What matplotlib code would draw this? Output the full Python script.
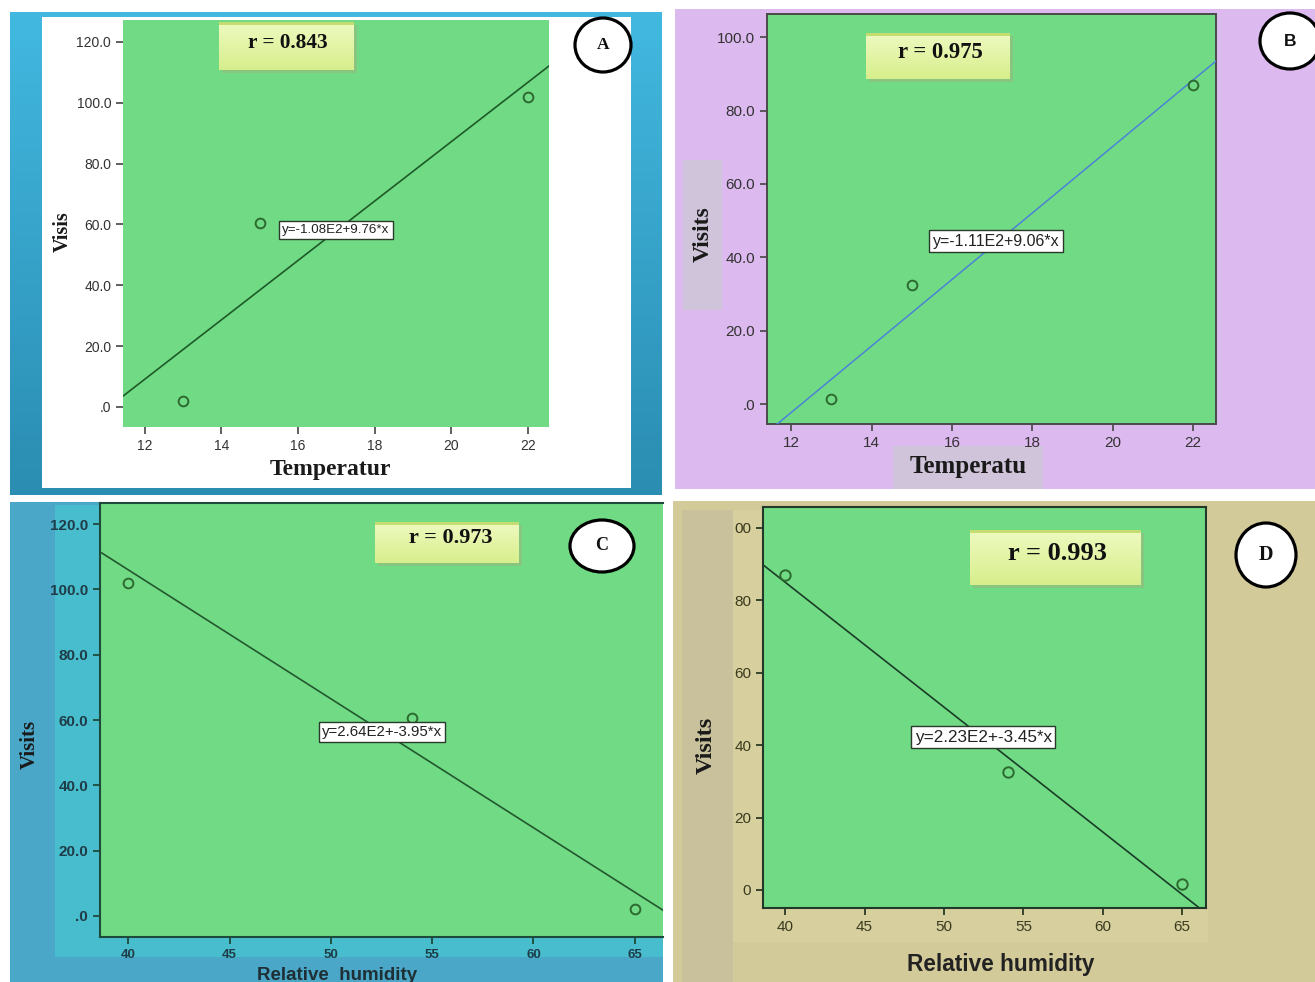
import numpy as np
import matplotlib
matplotlib.use("Agg")
import matplotlib.pyplot as plt
from matplotlib.patches import Rectangle, Ellipse
from matplotlib.colors import LinearSegmentedColormap

# ---------------- data ----------------
temperature = [13, 15, 22]
visits_A = [2, 60.5, 102]
visits_B = [1.5, 32.5, 87]
humidity = [40, 54, 65]
visits_C = [102, 60.5, 2]
visits_D = [87, 32.5, 1.5]

fit_A = (-108.0, 9.76)
fit_B = (-111.0, 9.06)
fit_C = (264.0, -3.95)
fit_D = (223.0, -3.45)

eq_A = "y=-1.08E2+9.76*x"
eq_B = "y=-1.11E2+9.06*x"
eq_C = "y=2.64E2+-3.95*x"
eq_D = "y=2.23E2+-3.45*x"

r_A, r_B, r_C, r_D = "r = 0.843", "r = 0.975", "r = 0.973", "r = 0.993"

temp_ticks = [12, 14, 16, 18, 20, 22]
hum_ticks = [40, 45, 50, 55, 60, 65]
yt_A = [0, 20, 40, 60, 80, 100, 120]
yl_A = [".0", "20.0", "40.0", "60.0", "80.0", "100.0", "120.0"]
yt_B = [0, 20, 40, 60, 80, 100]
yl_B = [".0", "20.0", "40.0", "60.0", "80.0", "100.0"]
yt_D = [0, 20, 40, 60, 80, 100]
yl_D = ["0", "20", "40", "60", "80", "00"]

# ---------------- figure ----------------
W, H = 1315, 982
fig = plt.figure(figsize=(W / 100, H / 100), dpi=100)
fig.patch.set_facecolor("white")

bg = fig.add_axes([0, 0, 1, 1], zorder=0)
bg.set_xlim(0, W)
bg.set_ylim(H, 0)
bg.axis("off")


def rect(ax, x0, y0, x1, y1, color, z=1):
    ax.add_patch(Rectangle((x0, y0), x1 - x0, y1 - y0, facecolor=color,
                           edgecolor="none", zorder=z))


def grad(ax, x0, y0, x1, y1, c_top, c_bot, z=1):
    cm = LinearSegmentedColormap.from_list("g", [c_top, c_bot])
    ax.imshow(np.linspace(0, 1, 64).reshape(-1, 1), cmap=cm, aspect="auto",
              extent=(x0, x1, y1, y0), zorder=z, interpolation="bilinear")


# panel A background
grad(bg, 10, 12, 662, 495, "#42b8e0", "#2b8db2")
rect(bg, 42, 17, 631, 488, "white", 2)
# panel B background
rect(bg, 675, 9, 1315, 489, "#dcb9ee")
rect(bg, 683, 160, 722, 310, "#cfc4d9", 2)
rect(bg, 893, 446, 1043, 489, "#cfc4d9", 2)
# panel C background
rect(bg, 10, 502, 663, 982, "#4aa7c7")
rect(bg, 55, 505, 663, 957, "#48bdce", 2)
# panel D background
rect(bg, 673, 501, 1315, 982, "#d3ca9a")
rect(bg, 682, 510, 733, 982, "#c9c19b", 2)
rect(bg, 733, 510, 1208, 942, "#d7cf9e", 2)
bg.set_xlim(0, W)
bg.set_ylim(H, 0)

GREEN = "#70db84"


def make_ax(px, xlim, ylim):
    x0, y0, x1, y1 = px
    ax = fig.add_axes([x0 / W, 1 - y1 / H, (x1 - x0) / W, (y1 - y0) / H], zorder=2)
    ax.set_facecolor(GREEN)
    ax.set_xlim(*xlim)
    ax.set_ylim(*ylim)
    return ax


def eqbox(ax, x, y, txt, fs):
    ax.text(x, y, txt, transform=ax.transAxes, ha="center", va="center",
            fontsize=fs, family="Liberation Sans",
            color="#222222", zorder=6,
            bbox=dict(boxstyle="square,pad=0.22", facecolor="white",
                      edgecolor="#2a3a2a", linewidth=1.0))


# ---- A ----
axA = make_ax((123, 20, 549, 427), (11.43, 22.55), (-6.6, 127.2))
for s in axA.spines.values():
    s.set_visible(False)
xs = np.array(axA.get_xlim())
axA.plot(xs, fit_A[0] + fit_A[1] * xs, color="#1e5a28", lw=1.2, zorder=3)
axA.plot(temperature, visits_A, "o", mfc="none", mec="#2d6a30", ms=7, mew=1.4, zorder=4)
axA.set_xticks(temp_ticks)
axA.set_yticks(yt_A)
axA.set_yticklabels(yl_A)
axA.tick_params(direction="out", length=5, width=1.2, colors="#444444",
                labelsize=10, labelcolor="#333333")
eqbox(axA, 0.50, 0.484, eq_A, 9.6)

# ---- B ----
axB = make_ax((767, 14, 1216, 424), (11.4, 22.57), (-5.4, 106.3))
for s in axB.spines.values():
    s.set_color("#4a4a4a")
    s.set_linewidth(1.4)
xs = np.array(axB.get_xlim())
axB.plot(xs, fit_B[0] + fit_B[1] * xs, color="#4d82d6", lw=1.1, zorder=3)
axB.plot(temperature, visits_B, "o", mfc="none", mec="#2d6a30", ms=7, mew=1.4, zorder=4)
axB.set_xticks(temp_ticks)
axB.set_yticks(yt_B)
axB.set_yticklabels(yl_B)
axB.tick_params(direction="out", length=5, width=1.2, colors="#444444",
                labelsize=11, labelcolor="#333333")
eqbox(axB, 0.51, 0.446, eq_B, 11.5)

# ---- C ----
axC = make_ax((100, 503, 663, 937), (38.6, 66.4), (-6.5, 126.5))
for k, s in axC.spines.items():
    s.set_color("#1d4a3a")
    s.set_linewidth(1.5)
axC.spines["right"].set_visible(False)
xs = np.array(axC.get_xlim())
axC.plot(xs, fit_C[0] + fit_C[1] * xs, color="#23572f", lw=1.2, zorder=3)
axC.plot(humidity, visits_C, "o", mfc="none", mec="#2d6a30", ms=7, mew=1.4, zorder=4)
axC.set_xticks(hum_ticks)
axC.set_yticks(yt_A)
axC.set_yticklabels(yl_A)
axC.tick_params(direction="out", length=5, width=1.3, colors="#1d4a3a",
                labelcolor="#1f3d48")
axC.tick_params(axis="y", labelsize=11)
axC.tick_params(axis="x", labelsize=9.5)
eqbox(axC, 0.501, 0.472, eq_C, 10.8)

# ---- D ----
axD = make_ax((763, 507, 1206, 908), (38.6, 66.5), (-5.0, 105.8))
for s in axD.spines.values():
    s.set_color("#24382a")
    s.set_linewidth(1.5)
xs = np.array(axD.get_xlim())
axD.plot(xs, fit_D[0] + fit_D[1] * xs, color="#1b3d28", lw=1.2, zorder=3)
axD.plot(humidity, visits_D, "o", mfc="none", mec="#2d6a30", ms=7.5, mew=1.4, zorder=4)
axD.set_xticks(hum_ticks)
axD.set_yticks(yt_D)
axD.set_yticklabels(yl_D)
axD.tick_params(direction="out", length=5, width=1.3, colors="#2a3a22",
                labelsize=11, labelcolor="#3a3a1e")
eqbox(axD, 0.497, 0.426, eq_D, 12.3)

for ax in (axA, axB, axC, axD):
    for lab in ax.get_xticklabels() + ax.get_yticklabels():
        lab.set_family("Liberation Sans")
for lab in axC.get_xticklabels() + axC.get_yticklabels():
    lab.set_fontweight("bold")

# ---------------- overlay ----------------
ov = fig.add_axes([0, 0, 1, 1], zorder=5)
ov.set_xlim(0, W)
ov.set_ylim(H, 0)
ov.axis("off")
ov.patch.set_alpha(0)


def rbox(x0, y0, x1, y1, txt, tx, ty, fs):
    ov.add_patch(Rectangle((x0 + 3, y0 + 3), x1 - x0, y1 - y0,
                           facecolor="#9fb080", edgecolor="none", alpha=0.5, zorder=1))
    grad(ov, x0, y0, x1, y1, "#eefac0", "#d8ee8c", z=2)
    ov.add_patch(Rectangle((x0, y0), x1 - x0, 3, facecolor="#c4dc70",
                           edgecolor="none", zorder=3))
    ov.text(tx, ty, txt, ha="center", va="center", fontsize=fs,
            family="Liberation Serif", fontweight="bold", color="#111111", zorder=4)


rbox(219, 22, 354, 70, r_A, 288, 43, 15.3)
rbox(866, 33, 1010, 79, r_B, 940, 52, 16.3)
rbox(375, 522, 519, 563, r_C, 451, 538, 16)
rbox(970, 530, 1141, 585, r_D, 1057, 553, 19)


def badge(cx, cy, rx, ry, letter, fam, fs):
    ov.add_patch(Ellipse((cx, cy), 2 * rx, 2 * ry, facecolor="white",
                         edgecolor="black", linewidth=2.3, zorder=5))
    ov.text(cx, cy, letter, ha="center", va="center", fontsize=fs,
            family=fam, fontweight="bold", color="#111111", zorder=6)


badge(603, 45, 28, 27, "A", "Liberation Serif", 12.5)
badge(1290, 41, 30, 28, "B", "Liberation Sans", 12.5)
badge(602, 546, 32, 26, "C", "Liberation Serif", 13)
badge(1266, 555, 30, 32, "D", "Liberation Serif", 14.5)


def title(x, y, txt, fs, fam, rot=0, color="#1a1a1a"):
    ov.text(x, y, txt, ha="center", va="center", fontsize=fs, family=fam,
            fontweight="bold", rotation=rot, color=color, zorder=6)


title(63, 232, "Visis", 14.5, "Liberation Serif", 90)
title(330, 469, "Temperatur", 17, "Liberation Serif")
title(703, 234, "Visits", 17, "Liberation Serif", 90)
title(968, 466, "Temperatu", 18, "Liberation Serif")
title(30, 744, "Visits", 15, "Liberation Serif", 90)
title(337, 976, "Relative  humidity", 13.5, "Liberation Sans", color="#1f2f36")
title(706, 745, "Visits", 17.5, "Liberation Serif", 90)
title(1001, 965, "Relative humidity", 16.3, "Liberation Sans", color="#222222")

ov.set_xlim(0, W)
ov.set_ylim(H, 0)

fig.savefig("out.png", dpi=100, facecolor="white")
